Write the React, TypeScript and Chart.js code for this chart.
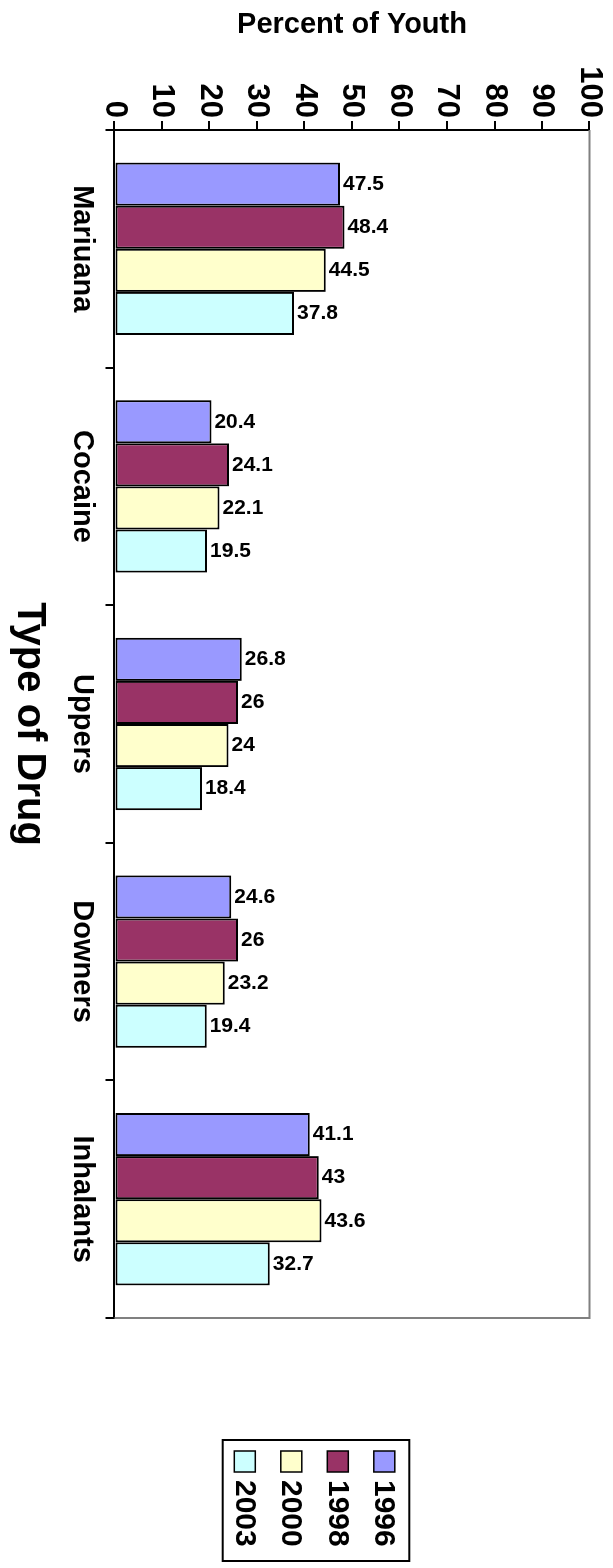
import { useEffect, useRef } from 'react';
import { Chart, registerables } from 'chart.js';

Chart.register(...registerables);

const categories = ['Mariuana', 'Cocaine', 'Uppers', 'Downers', 'Inhalants'];
const seriesLabels = ['1996', '1998', '2000', '2003'];
const values1996 = [47.5, 20.4, 26.8, 24.6, 41.1];
const values1998 = [48.4, 24.1, 26, 26, 43];
const values2000 = [44.5, 22.1, 24, 23.2, 43.6];
const values2003 = [37.8, 19.5, 18.4, 19.4, 32.7];
const seriesColors = ['#9999FF', '#993366', '#FFFFCC', '#CCFFFF'];
const valueTicks = [0, 10, 20, 30, 40, 50, 60, 70, 80, 90, 100];

const FAMILY = '"Liberation Sans", Arial, sans-serif';

const plotBorderPlugin = {
  id: 'plotBorder',
  beforeDatasetsDraw(chart: any) {
    const { ctx, chartArea } = chart;
    ctx.save();
    ctx.strokeStyle = '#808080';
    ctx.lineWidth = 2;
    ctx.beginPath();
    ctx.moveTo(chartArea.left, chartArea.top);
    ctx.lineTo(chartArea.right, chartArea.top);
    ctx.lineTo(chartArea.right, chartArea.bottom);
    ctx.stroke();
    ctx.restore();
  },
};

const dataLabelPlugin = {
  id: 'dataLabels',
  afterDatasetsDraw(chart: any) {
    const { ctx } = chart;
    ctx.save();
    ctx.fillStyle = '#000';
    ctx.font = `bold 21px ${FAMILY}`;
    ctx.textAlign = 'left';
    ctx.textBaseline = 'middle';
    chart.data.datasets.forEach((ds: any, di: number) => {
      const meta = chart.getDatasetMeta(di);
      meta.data.forEach((el: any, i: number) => {
        const v = ds.data[i];
        ctx.save();
        ctx.translate(el.x, el.y - 3);
        ctx.rotate(-Math.PI / 2);
        ctx.fillText(String(v), 0, 0);
        ctx.restore();
      });
    });
    ctx.restore();
  },
};

const legendBoxPlugin = {
  id: 'legendBox',
  afterDraw(chart: any) {
    const { ctx } = chart;
    const left = 1440;
    const top = 203.7;
    const w = 121;
    const h = 186.6;
    ctx.save();
    ctx.fillStyle = '#fff';
    ctx.fillRect(left, top, w, h);
    ctx.strokeStyle = '#000';
    ctx.lineWidth = 2;
    ctx.strokeRect(left, top, w, h);
    ctx.font = `bold 30px ${FAMILY}`;
    ctx.textAlign = 'left';
    ctx.textBaseline = 'middle';
    chart.data.datasets.forEach((ds: any, i: number) => {
      const cy = 228.7 + i * 46.5;
      ctx.fillStyle = ds.backgroundColor;
      ctx.fillRect(1451, cy - 10.5, 21, 21);
      ctx.lineWidth = 1.5;
      ctx.strokeStyle = '#000';
      ctx.strokeRect(1451, cy - 10.5, 21, 21);
      ctx.fillStyle = '#000';
      ctx.fillText(ds.label, 1480, cy + 1);
    });
    ctx.restore();
  },
};

export default function App() {
  const ref = useRef<HTMLCanvasElement>(null);

  useEffect(() => {
    const series = [values1996, values1998, values2000, values2003];
    const chart = new Chart(ref.current as HTMLCanvasElement, {
      type: 'bar',
      data: {
        labels: categories,
        datasets: series.map((vals, i) => ({
          label: seriesLabels[i],
          data: vals,
          backgroundColor: seriesColors[i],
          borderColor: '#000',
          borderWidth: 2,
          borderSkipped: false,
          barPercentage: 1,
          categoryPercentage: 0.7256,
        })),
      },
      options: {
        responsive: false,
        animation: false,
        devicePixelRatio: 1,
        layout: { padding: { top: 23.5, right: 250, left: 0, bottom: 0 } },
        plugins: {
          legend: { display: false },
          tooltip: { enabled: false },
        },
        scales: {
          x: {
            type: 'category',
            grid: {
              display: true,
              drawOnChartArea: false,
              drawTicks: true,
              tickLength: 9,
              color: '#000',
              lineWidth: 2,
              offset: true,
            },
            border: { display: true, color: '#000', width: 2 },
            ticks: {
              font: { family: FAMILY, size: 29, weight: 'bold' },
              color: '#000',
              padding: 6,
              maxRotation: 0,
              minRotation: 0,
              autoSkip: false,
            },
            title: {
              display: true,
              text: 'Type of Drug',
              font: { family: FAMILY, size: 40, weight: 'bold' },
              color: '#000',
              padding: { top: 0, bottom: 5 },
            },
            afterFit: (s: any) => {
              s.height = 114.5;
            },
          },
          y: {
            min: 0,
            max: 100,
            afterBuildTicks: (s: any) => {
              s.ticks = valueTicks.map((v) => ({ value: v }));
            },
            grid: {
              drawOnChartArea: false,
              drawTicks: true,
              tickLength: 9,
              color: '#000',
              lineWidth: 2,
            },
            border: { display: true, color: '#000', width: 2 },
            ticks: {
              font: { family: FAMILY, size: 31, weight: 'bold' },
              color: '#000',
              padding: 3,
              callback: (v: any) => String(v),
            },
            title: {
              display: true,
              text: 'Percent of Youth',
              font: { family: FAMILY, size: 29, weight: 'bold' },
              color: '#000',
              padding: { top: 8, bottom: 0 },
            },
            afterFit: (s: any) => {
              s.width = 130;
            },
          },
        },
      } as any,
      plugins: [plotBorderPlugin, dataLabelPlugin, legendBoxPlugin],
    });
    return () => chart.destroy();
  }, []);

  return (
    <div
      style={{
        position: 'fixed',
        left: 0,
        top: 0,
        width: 613,
        height: 1568,
        overflow: 'hidden',
        background: '#fff',
      }}
    >
      <div
        style={{
          position: 'absolute',
          left: 0,
          top: 0,
          width: 1568,
          height: 613,
          transformOrigin: '0 0',
          transform: 'translate(613px, 0px) rotate(90deg)',
        }}
      >
        <canvas
          ref={ref}
          width={1568}
          height={613}
          style={{ display: 'block', width: 1568, height: 613 }}
        />
      </div>
    </div>
  );
}
